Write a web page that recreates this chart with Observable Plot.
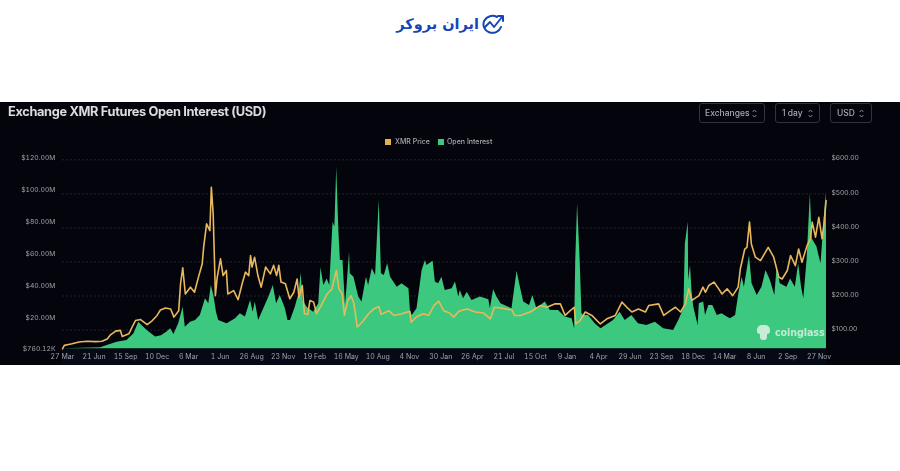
<!DOCTYPE html>
<html><head><meta charset="utf-8">
<script src="https://cdn.jsdelivr.net/npm/d3@7"></script>
<script src="https://cdn.jsdelivr.net/npm/@observablehq/plot@0.6"></script>
<style>
html,body{margin:0;padding:0;background:#fff;width:900px;height:471px;overflow:hidden;font-family:Inter,Roboto,sans-serif}
#panel{position:absolute;left:0;top:102px;width:900px;height:263px;background:#04040c}
#strip{position:absolute;left:62px;top:349px;width:764px;height:16px;background:#060a16}
#chart{position:absolute;left:0;top:0;filter:blur(.45px)}
#title{position:absolute;left:8px;top:104px;font:700 12.8px Inter,sans-serif;letter-spacing:-.35px;color:#dcdcde;white-space:nowrap;filter:blur(.45px)}
.sel{position:absolute;top:103px;height:18px;border:1px solid #30343c;border-radius:3px;color:#a9abb0;font:500 8.5px/18px Inter,sans-serif;white-space:nowrap;filter:blur(.3px)}
.sel span{position:absolute;top:0}
.sel svg{position:absolute;top:4.5px}
.leg{position:absolute;top:137px;font:500 7px/9px Inter,sans-serif;color:#a9abb0;white-space:nowrap;filter:blur(.3px)}
.sw{position:absolute;top:139px;width:6px;height:6px}
#wm{position:absolute;left:756px;top:323px;width:70px;height:20px;color:#dff3e7;opacity:.82;filter:blur(.45px)}
#wm span{position:absolute;left:19px;top:1px;font:700 9.6px/18px "DejaVu Sans",sans-serif;letter-spacing:-.1px}
#wm i{position:absolute;left:1px;top:2px;width:13px;height:9px;background:#e9f5ee;border-radius:5px 5px 3px 3px}
#wm b{position:absolute;left:4px;top:10px;width:7px;height:7px;background:#e9f5ee;border-radius:0 0 3px 3px}
#logoText{position:absolute;left:380px;top:11px;width:99px;text-align:right;direction:rtl;font:700 14.5px/26px "DejaVu Sans",sans-serif;color:#1746b4;white-space:nowrap}
#logoIcon{position:absolute;left:482px;top:14px}
</style></head>
<body>
<div id="panel"></div><div id="strip"></div>
<div id="title">Exchange XMR Futures Open Interest (USD)</div>
<div class="sel" style="left:699px;width:64px"><span style="left:5px">Exchanges</span><svg style="left:52px" width="5" height="9" viewBox="0 0 5 9" fill="none" stroke="#a9abb0" stroke-width=".8"><path d="M.7 3 2.5 1 4.3 3M.7 6 2.5 8 4.3 6"/></svg></div>
<div class="sel" style="left:775px;width:43px"><span style="left:6px">1 day</span><svg style="left:32px" width="5" height="9" viewBox="0 0 5 9" fill="none" stroke="#a9abb0" stroke-width=".8"><path d="M.7 3 2.5 1 4.3 3M.7 6 2.5 8 4.3 6"/></svg></div>
<div class="sel" style="left:830px;width:40px"><span style="left:6px">USD</span><svg style="left:28px" width="5" height="9" viewBox="0 0 5 9" fill="none" stroke="#a9abb0" stroke-width=".8"><path d="M.7 3 2.5 1 4.3 3M.7 6 2.5 8 4.3 6"/></svg></div>
<div class="sw" style="left:385px;background:#e3b04f"></div><div class="leg" style="left:395px">XMR Price</div>
<div class="sw" style="left:438px;background:#3cc87e"></div><div class="leg" style="left:447px">Open Interest</div>
<div id="logoText">ایران بروکر</div>
<svg id="logoIcon" width="24" height="22" viewBox="0 0 24 22" fill="none" stroke="#1746b4" stroke-width="2" stroke-linecap="round" stroke-linejoin="round"><path d="M19 13a9 8.5 0 1 1-4-10"/><path d="M3 13l5-5 4 5 8-10"/><path d="M16 2h5v5"/></svg>
<div id="chart"></div>
<div id="wm"><i></i><b></b><span>coinglass</span></div>
<script>
const startDate = new Date(Date.UTC(2020, 2, 27));
const lastDay = 2084;

const tickLabels = ["27 Mar","21 Jun","15 Sep","10 Dec","6 Mar","1 Jun","26 Aug","23 Nov","19 Feb","16 May","10 Aug","4 Nov","30 Jan","26 Apr","21 Jul","15 Oct","9 Jan","4 Apr","29 Jun","23 Sep","18 Dec","14 Mar","8 Jun","2 Sep","27 Nov"];
const tickDays = [0,86,172,258,344,430,516,602,688,774,860,946,1032,1118,1204,1290,1376,1462,1548,1634,1720,1806,1892,1978,2064];

const oiTicks = [0.76,20,40,60,80,100,120];
const oiTickLabels = ["$760.12K","$20.00M","$40.00M","$60.00M","$80.00M","$100.00M","$120.00M"];
const priceTicks = [100,200,300,400,500,600];
const priceTickLabels = ["$100.00","$200.00","$300.00","$400.00","$500.00","$600.00"];

// [day since 27 Mar 2020, USD]
const priceReadings = [[0,45],[5,55],[13,57],[26,60],[45,65],[67,67],[90,66],[108,67],[122,74],[131,86],[145,97],[158,99],[163,81],[181,89],[190,109],[199,128],[213,131],[231,116],[245,128],[258,143],[267,159],[281,165],[295,162],[304,138],[317,157],[322,236],[328,283],[335,206],[349,226],[360,211],[372,260],[381,294],[385,343],[393,412],[402,392],[406,519],[411,441],[415,285],[417,201],[422,255],[431,309],[438,260],[447,275],[451,206],[467,216],[479,189],[490,236],[499,270],[508,260],[513,319],[517,285],[524,314],[533,260],[542,226],[554,285],[567,265],[576,290],[584,260],[590,290],[596,241],[608,236],[620,192],[631,211],[640,250],[645,196],[654,231],[660,148],[669,146],[675,187],[685,182],[693,148],[708,177],[722,206],[735,221],[747,275],[754,221],[763,206],[769,143],[778,187],[787,201],[795,177],[804,109],[817,123],[835,148],[849,162],[863,169],[869,146],[890,157],[904,143],[926,148],[947,155],[951,123],[967,140],[985,148],[999,143],[1013,172],[1026,185],[1040,157],[1056,150],[1067,138],[1081,155],[1104,162],[1126,153],[1149,150],[1167,133],[1178,167],[1199,164],[1226,159],[1233,143],[1249,143],[1267,150],[1276,153],[1303,172],[1321,167],[1344,177],[1358,177],[1371,143],[1385,157],[1396,167],[1400,118],[1412,128],[1426,153],[1444,143],[1467,118],[1485,133],[1508,143],[1526,182],[1544,162],[1553,153],[1571,162],[1590,153],[1599,172],[1626,177],[1640,143],[1658,157],[1672,167],[1686,153],[1699,177],[1708,221],[1717,187],[1736,201],[1747,226],[1754,211],[1763,231],[1777,241],[1790,221],[1799,206],[1813,221],[1828,201],[1843,226],[1849,280],[1861,338],[1867,343],[1874,417],[1879,353],[1890,314],[1904,304],[1925,343],[1940,314],[1954,255],[1963,250],[1977,275],[1986,319],[1999,289],[2008,338],[2017,299],[2031,348],[2040,368],[2045,417],[2054,373],[2063,431],[2072,368],[2077,412],[2083,480]];

// [day since 27 Mar 2020, USD millions]
const oiReadings = [[0,0.76],[104,1.4],[122,2.8],[149,4.9],[176,6],[195,10.1],[208,17.4],[218,15],[231,12.2],[254,8.1],[270,9],[285,11.2],[295,13.3],[304,9.7],[317,16.4],[329,26.8],[335,14.3],[349,17.4],[363,18.5],[376,21.6],[390,32],[399,29],[406,40.4],[413,34],[420,23.7],[426,18.5],[449,16.4],[472,19.5],[485,22.7],[499,20.6],[513,31],[520,23.7],[526,30],[535,18.5],[549,25.8],[563,33.1],[575,40.4],[584,29],[594,34.1],[608,25.8],[615,18.5],[622,18.5],[635,26.8],[645,35.2],[651,48.1],[656,31],[667,26.8],[685,23.7],[699,28.9],[705,51.4],[713,40.4],[722,44.5],[729,40.4],[738,80],[743,76.9],[748,114.4],[754,73.7],[758,56],[765,56],[772,27.9],[776,39.3],[783,61.2],[785,47.7],[795,45.6],[808,33.1],[817,30],[829,45.6],[835,40.4],[845,50.8],[854,46.6],[864,93.5],[870,47.7],[878,46.6],[887,54],[895,45.6],[913,39.3],[926,41.4],[945,38.3],[949,24.7],[954,21.6],[967,25.8],[981,49.8],[990,56],[994,52.9],[1011,55.6],[1017,42.5],[1026,41.4],[1035,45.6],[1044,37.2],[1063,38.3],[1072,42.5],[1081,33.1],[1085,37.2],[1094,32],[1104,36.2],[1117,31],[1140,33.1],[1163,31.4],[1167,25.8],[1176,37.7],[1185,33.1],[1196,28.9],[1226,25.8],[1234,39.3],[1240,49.3],[1247,41.4],[1258,30],[1274,27.9],[1283,34.1],[1294,25.8],[1317,30],[1331,24.7],[1353,24.7],[1371,20.6],[1390,19.5],[1397,13.3],[1400,56],[1405,91.5],[1412,56],[1417,22.7],[1421,21.6],[1435,21.6],[1453,16.4],[1469,13.3],[1503,18.5],[1521,23.7],[1535,18.5],[1553,21.6],[1571,16.4],[1594,15.4],[1617,17.4],[1640,13.3],[1667,12.2],[1681,18.5],[1695,25.8],[1699,66.4],[1707,80],[1708,43.5],[1713,52.9],[1717,37.2],[1722,26.8],[1734,15.4],[1737,28.9],[1749,30],[1754,21.6],[1763,27.9],[1774,27.9],[1786,21.6],[1799,22.7],[1813,20.6],[1822,19.5],[1836,21.6],[1845,35.2],[1854,45.6],[1860,39.3],[1874,59.1],[1881,41.4],[1895,34.1],[1908,39.3],[1919,49.8],[1931,43.5],[1943,34.1],[1949,50.8],[1958,41.4],[1976,39.3],[1986,44.5],[1999,39.3],[2008,53.9],[2016,39.3],[2022,32],[2031,56],[2040,97.7],[2045,69.6],[2058,64.4],[2069,53.9],[2077,79],[2083,98.8],[2084,79]];

const dayDate = d => d3.utcDay.offset(startDate, d);
const priceToOi = d3.scaleLinear([45,600],[0.76,119]);
const labelColor = "#a0a2a7";

const plot = Plot.plot({
  width: 900, height: 471,
  marginLeft: 62, marginRight: 74, marginTop: 157.7, marginBottom: 122.7,
  style: {background:"transparent", fontFamily:"Inter, sans-serif"},
  x: {type:"utc", domain:[startDate, dayDate(lastDay)]},
  y: {domain:[0.76,120]},
  marks: [
    Plot.ruleY(priceTicks, {y:d=>priceToOi(d), stroke:"#303236", strokeDasharray:"2 2", strokeWidth:0.7}),
    Plot.areaY(oiReadings, {x:d=>dayDate(d[0]), y1:0.76, y2:d=>d[1], fill:"#3cc87e", curve:"linear"}),
    Plot.line(priceReadings, {x:d=>dayDate(d[0]), y:d=>priceToOi(d[1]), stroke:"#e8b95c", strokeWidth:1.6, curve:"linear"}),
    Plot.axisX(tickDays.map(dayDate), {tickSize:0, tickPadding:5.5, fontSize:7, fill:labelColor, tickFormat:d=>tickLabels[tickDays.indexOf(d3.utcDay.count(startDate,d))], label:null}),
    Plot.axisY(oiTicks, {tickSize:0, tickPadding:7, fontSize:6.8, fill:labelColor, tickFormat:d=>oiTickLabels[oiTicks.indexOf(d)], label:null}),
    Plot.text(priceTicks, {x:()=>dayDate(lastDay), y:d=>priceToOi(d), dx:5, dy:-1.5, text:d=>priceTickLabels[priceTicks.indexOf(d)], textAnchor:"start", fontSize:6.8, fill:labelColor})
  ]
});
document.getElementById("chart").appendChild(plot);
</script>
</body></html>
